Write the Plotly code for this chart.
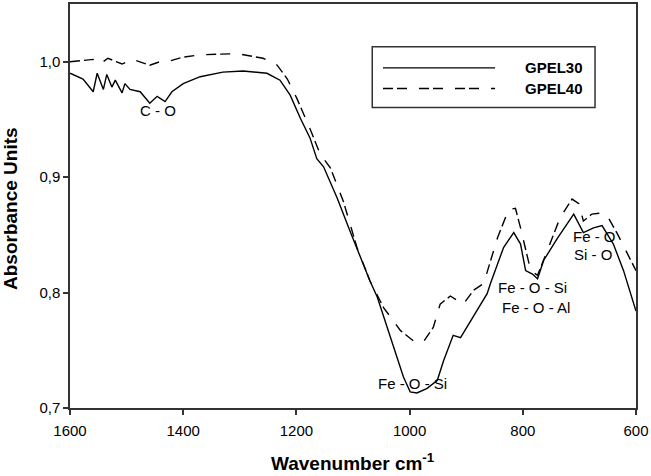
import plotly.graph_objects as go

# GPEL30 (solid) – wavenumber / absorbance
wn30 = [1600, 1577, 1559, 1552, 1541, 1535, 1526, 1520, 1508, 1503, 1494, 1476, 1459, 1446, 1432, 1420,
        1400, 1370, 1330, 1294, 1252, 1229, 1211, 1193, 1176, 1164, 1152, 1128, 1105, 1087, 1070, 1057,
        1040, 1022, 1011, 999, 987, 969, 951, 940, 923, 910, 905, 887, 880, 863, 857, 834, 816, 804, 795,
        783, 774, 763, 739, 710, 693, 675, 660, 640, 622, 600]
ab30 = [0.990, 0.985, 0.974, 0.990, 0.976, 0.989, 0.978, 0.984, 0.973, 0.981, 0.976, 0.974, 0.964, 0.970,
        0.9655, 0.974, 0.981, 0.987, 0.991, 0.992, 0.990, 0.984, 0.971, 0.951, 0.934, 0.916, 0.909, 0.882,
        0.853, 0.830, 0.810, 0.796, 0.770, 0.744, 0.727, 0.714, 0.713, 0.717, 0.724, 0.741, 0.763, 0.761,
        0.765, 0.780, 0.785, 0.799, 0.808, 0.839, 0.852, 0.842, 0.819, 0.816, 0.812, 0.828, 0.847, 0.868,
        0.852, 0.856, 0.858, 0.842, 0.819, 0.784]

# GPEL40 (dashed)
wn40 = [1600, 1577, 1559, 1547, 1533, 1508, 1489, 1459, 1441, 1429, 1400, 1370, 1330, 1305, 1259, 1234,
        1216, 1199, 1176, 1158, 1140, 1117, 1093, 1070, 1046, 1016, 993, 976, 958, 946, 928, 905, 887,
        869, 845, 825, 813, 804, 786, 774, 757, 734, 713, 701, 693, 678, 660, 649, 633, 615, 600]
ab40 = [1.000, 1.001, 1.002, 0.998, 1.003, 0.998, 1.002, 0.997, 1.000, 1.000, 1.004, 1.006, 1.007, 1.007,
        1.003, 0.997, 0.985, 0.968, 0.942, 0.920, 0.908, 0.879, 0.839, 0.810, 0.787, 0.767, 0.758, 0.757,
        0.770, 0.790, 0.797, 0.790, 0.802, 0.808, 0.847, 0.872, 0.873, 0.856, 0.819, 0.815, 0.836, 0.865,
        0.881, 0.877, 0.862, 0.868, 0.869, 0.865, 0.851, 0.834, 0.819]

series_names = ["GPEL30", "GPEL40"]
y_ticks = [0.7, 0.8, 0.9, 1.0]
y_ticktext = ["0,7", "0,8", "0,9", "1,0"]
x_ticks = [1600, 1400, 1200, 1000, 800, 600]
x_title = "Wavenumber cm<sup>-1</sup>"
y_title = "Absorbance Units"

# band labels: (text, wavenumber, absorbance)
band_labels = [("C - O", 1445, 0.958), ("Fe - O - Si", 995, 0.721),
               ("Fe - O - Si", 782, 0.804), ("Fe - O - Al", 777, 0.787),
               ("Fe - O", 673, 0.849), ("Si - O", 676, 0.833)]

FONT = "Liberation Sans, Arial, sans-serif"
DASH = "10px,4px,10px,12px"

fig = go.Figure()
fig.add_trace(go.Scatter(x=wn30, y=ab30, mode="lines", name=series_names[0],
                         line=dict(color="black", width=1.4), showlegend=False))
fig.add_trace(go.Scatter(x=wn40, y=ab40, mode="lines", name=series_names[1],
                         line=dict(color="black", width=1.4, dash=DASH), showlegend=False))

for txt, xv, yv in band_labels:
    fig.add_annotation(x=xv, y=yv, text=txt, showarrow=False,
                       font=dict(family=FONT, size=15, color="black"))

# manual legend box
fig.add_shape(type="rect", xref="paper", yref="paper", x0=0.534, x1=0.9276, y0=0.744, y1=0.894,
              line=dict(color="#333333", width=1.5), fillcolor="white", layer="above")
fig.add_shape(type="line", xref="paper", yref="paper", x0=0.553, x1=0.751, y0=0.842, y1=0.842,
              line=dict(color="black", width=1.4))
fig.add_shape(type="line", xref="paper", yref="paper", x0=0.553, x1=0.751, y0=0.791, y1=0.791,
              line=dict(color="black", width=1.4, dash=DASH))
fig.add_annotation(xref="paper", yref="paper", x=0.800, y=0.842, xanchor="left", yanchor="middle",
                   text=f"<b>{series_names[0]}</b>",
                   showarrow=False, font=dict(family=FONT, size=15, color="black"))
fig.add_annotation(xref="paper", yref="paper", x=0.800, y=0.791, xanchor="left", yanchor="middle",
                   text=f"<b>{series_names[1]}</b>",
                   showarrow=False, font=dict(family=FONT, size=15, color="black"))

# axis titles
fig.add_annotation(xref="paper", yref="paper", x=0.5, y=-0.133, xanchor="center", yanchor="middle",
                   text=f"<b>{x_title}</b>", showarrow=False, font=dict(family=FONT, size=19, color="black"))
fig.add_annotation(xref="paper", yref="paper", x=-0.104, y=0.493, xanchor="center", yanchor="middle",
                   textangle=-90, text=f"<b>{y_title}</b>", showarrow=False,
                   font=dict(family=FONT, size=19, color="black"))

fig.update_layout(
    width=651, height=476,
    margin=dict(l=70, r=15, t=2, b=68),
    paper_bgcolor="white", plot_bgcolor="white",
    font=dict(family=FONT, size=15, color="black"),
    showlegend=False,
)
fig.update_xaxes(range=[1600, 600], tickvals=x_ticks, ticks="outside", ticklen=5, tickwidth=1.5,
                 tickcolor="#333333", showline=True, linecolor="#333333", linewidth=1.5, mirror=True,
                 showgrid=False, zeroline=False, ticklabelstandoff=3,
                 tickfont=dict(family=FONT, size=15))
fig.update_yaxes(range=[0.7, 1.05], tickvals=y_ticks, ticktext=y_ticktext, ticks="outside", ticklen=5,
                 tickwidth=1.5, tickcolor="#333333", showline=True, linecolor="#333333", linewidth=1.5,
                 mirror=True, showgrid=False, zeroline=False,
                 tickfont=dict(family=FONT, size=15))

fig.write_html("out.html", config={"displayModeBar": False},
               post_script="document.body.style.margin='0';")
